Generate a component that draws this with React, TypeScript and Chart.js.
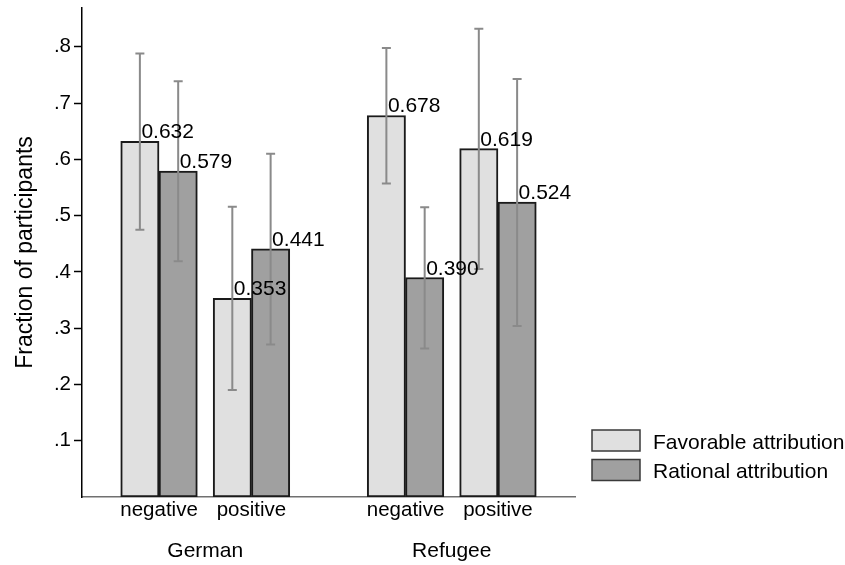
import { useEffect, useRef } from 'react';
import { Chart, registerables } from 'chart.js';

Chart.register(...registerables);

// ---- data ----
const groups = ['German', 'Refugee'];
const categories = ['negative', 'positive', 'negative', 'positive'];
const seriesNames = ['Favorable attribution', 'Rational attribution'];
const favorable = [0.632, 0.353, 0.678, 0.619];
const favorableLow = [0.475, 0.19, 0.557, 0.405];
const favorableHigh = [0.788, 0.516, 0.798, 0.832];
const rational = [0.579, 0.441, 0.39, 0.524];
const rationalLow = [0.419, 0.271, 0.264, 0.304];
const rationalHigh = [0.739, 0.61, 0.515, 0.743];
const yTickValues = [0.1, 0.2, 0.3, 0.4, 0.5, 0.6, 0.7, 0.8];
const yMax = 0.869;

// ---- layout (slots on the category axis) ----
const SLOT_COUNT = 16;
const SLOTS = [2, 5, 10, 13];
const GROUP_OF = [0, 0, 1, 1];
const FONT = '"Liberation Sans", Arial, Helvetica, sans-serif';
const COLORS = ['#e0e0e0', '#a0a0a0'];

const slotLabels: string[] = Array.from({ length: SLOT_COUNT }, () => '');
SLOTS.forEach((s, i) => {
  slotLabels[s] = categories[i];
});
const toSlots = (vals: number[]) => {
  const a: (number | null)[] = Array.from({ length: SLOT_COUNT }, () => null);
  SLOTS.forEach((s, i) => {
    a[s] = vals[i];
  });
  return a;
};

const lows = [favorableLow, rationalLow];
const highs = [favorableHigh, rationalHigh];
const means = [favorable, rational];

const annotatePlugin = {
  id: 'annotate',
  afterDatasetsDraw(chart: any) {
    const { ctx, chartArea, scales } = chart;
    const y = scales.y;
    const x = scales.x;
    ctx.save();
    // error bars
    for (let d = 0; d < 2; d++) {
      const meta = chart.getDatasetMeta(d);
      SLOTS.forEach((s, i) => {
        const el = meta.data[s];
        if (!el) return;
        const yl = y.getPixelForValue(lows[d][i]);
        const yh = y.getPixelForValue(highs[d][i]);
        ctx.strokeStyle = '#8a8a8a';
        ctx.lineWidth = 2;
        ctx.beginPath();
        ctx.moveTo(el.x, yl);
        ctx.lineTo(el.x, yh);
        ctx.moveTo(el.x - 4.5, yl);
        ctx.lineTo(el.x + 4.5, yl);
        ctx.moveTo(el.x - 4.5, yh);
        ctx.lineTo(el.x + 4.5, yh);
        ctx.stroke();
      });
    }
    // value labels
    ctx.fillStyle = '#000';
    ctx.font = `21px ${FONT}`;
    ctx.textAlign = 'left';
    ctx.textBaseline = 'alphabetic';
    for (let d = 0; d < 2; d++) {
      const meta = chart.getDatasetMeta(d);
      SLOTS.forEach((s, i) => {
        const el = meta.data[s];
        if (!el) return;
        ctx.fillText(means[d][i].toFixed(3), el.x + 1.5, el.y - 3);
      });
    }
    // group labels
    ctx.textAlign = 'center';
    ctx.textBaseline = 'alphabetic';
    groups.forEach((g, gi) => {
      const idx = SLOTS.filter((_, i) => GROUP_OF[i] === gi);
      const px = idx.map((s) => x.getPixelForValue(s));
      const cx = (Math.min(...px) + Math.max(...px)) / 2;
      ctx.fillText(g, cx, chartArea.bottom + 60);
    });
    // legend
    const bx = chartArea.right + 17;
    const tops = [chartArea.bottom - 67, chartArea.bottom - 37.5];
    seriesNames.forEach((name, i) => {
      ctx.fillStyle = COLORS[i];
      ctx.fillRect(bx, tops[i], 48, 21);
      ctx.strokeStyle = '#3a3a3a';
      ctx.lineWidth = 1.5;
      ctx.strokeRect(bx, tops[i], 48, 21);
      ctx.fillStyle = '#000';
      ctx.textAlign = 'left';
      ctx.textBaseline = 'alphabetic';
      ctx.fillText(name, bx + 61, tops[i] + 18.5);
    });
    ctx.restore();
  },
};

export default function App() {
  const ref = useRef<HTMLCanvasElement | null>(null);
  useEffect(() => {
    if (!ref.current) return;
    const chart = new Chart(ref.current, {
      type: 'bar',
      data: {
        labels: slotLabels,
        datasets: seriesNames.map((name, d) => ({
          label: name,
          data: toSlots(means[d]),
          backgroundColor: COLORS[d],
          borderColor: '#1a1a1a',
          borderWidth: 2,
          borderSkipped: false,
          barThickness: 38.3,
        })),
      },
      options: {
        animation: false,
        responsive: false,
        layout: { padding: { top: 8, right: 270, left: 0, bottom: 0 } },
        plugins: {
          legend: { display: false },
          tooltip: { enabled: false },
        },
        scales: {
          x: {
            type: 'category',
            grid: { display: false, drawTicks: false },
            border: { display: true, color: '#707070', width: 1.5 },
            ticks: {
              autoSkip: false,
              maxRotation: 0,
              minRotation: 0,
              padding: 1,
              color: '#000',
              font: { family: FONT, size: 20.5 },
            },
            afterFit: (s: any) => {
              s.height = 68;
              s.paddingLeft = 0;
              s.paddingRight = 0;
            },
          },
          y: {
            min: 0,
            max: yMax,
            afterBuildTicks: (s: any) => {
              s.ticks = yTickValues.map((v) => ({ value: v }));
            },
            grid: {
              drawOnChartArea: false,
              drawTicks: true,
              tickLength: 8,
              tickColor: '#000',
              tickWidth: 1.5,
            },
            border: { display: true, color: '#000', width: 1.5 },
            ticks: {
              padding: 3,
              color: '#000',
              font: { family: FONT, size: 20.5 },
              callback: (v: any) => Number(v).toFixed(1).replace(/^0/, ''),
            },
            title: {
              display: true,
              text: 'Fraction of participants',
              color: '#000',
              font: { family: FONT, size: 23 },
              padding: { top: 12, bottom: 0 },
            },
            afterFit: (s: any) => {
              s.width = 82;
              s.paddingTop = 0;
              s.paddingBottom = 0;
            },
          },
        },
      },
      plugins: [annotatePlugin],
    });
    return () => chart.destroy();
  }, []);
  return (
    <div style={{ position: 'absolute', left: 0, top: 0, width: 845, height: 565, background: '#fff' }}>
      <canvas ref={ref} width={845} height={565} />
    </div>
  );
}
